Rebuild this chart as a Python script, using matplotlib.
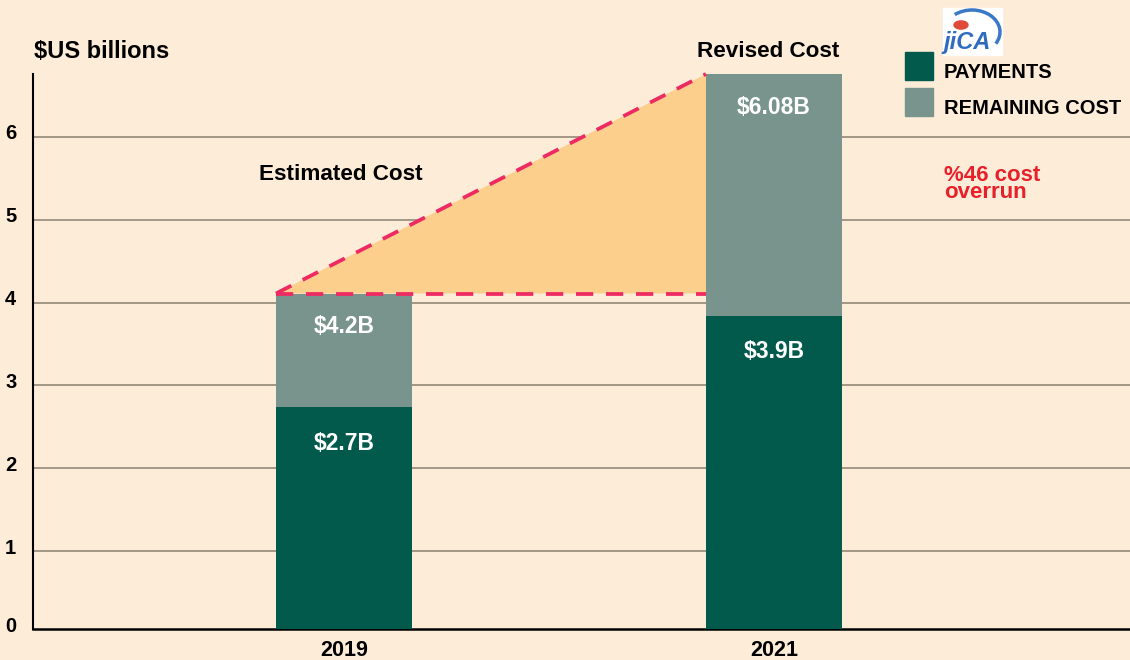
import matplotlib
matplotlib.use('Agg')
import matplotlib.pyplot as plt
from matplotlib.patches import Rectangle, Circle, Arc
from matplotlib.transforms import ScaledTranslation
import numpy as np

years = ['2019', '2021']
payments = [2.74, 3.84]
remaining = [1.37, 2.92]
pay_labels = ['$2.7B', '$3.9B']
rem_labels = ['$4.2B', '$6.08B']
cost_labels = ['Estimated Cost', 'Revised Cost']
legend_labels = ['PAYMENTS', 'REMAINING COST']
yticks = [0, 1, 2, 3, 4, 5, 6]

bg = '#fdecd8'
c_pay = '#025a4d'
c_rem = '#79948c'
c_fill = '#fdcf8d'
c_dash = '#ee2a62'
c_grid = '#a29684'

plt.rcParams['font.family'] = ['Liberation Sans', 'DejaVu Sans']
plt.rcParams['font.weight'] = 'bold'

W, H = 1130, 660
fig = plt.figure(figsize=(W / 100, H / 100), dpi=100, facecolor=bg)
ax = fig.add_axes([33 / W, 1 - 629 / H, 1 - 33 / W, (629 - 74) / H])
ax.set_facecolor(bg)

x = np.arange(len(years))
width = 0.316
totals = np.array(payments) + np.array(remaining)

# the baseline of the original sits a touch below the drawn axis line
y_floor = 0.06
ax.set_xlim(-0.723, 1.828)
ax.set_ylim(y_floor, totals[1])

# gridlines
for t in yticks[1:]:
    ax.axhline(t, color=c_grid, lw=1.4, zorder=0.5, xmin=0.002)

# cost-overrun wedge
xl0 = x[0] - width / 2
xl1 = x[1] - width / 2
ax.fill([xl0, xl1, xl1], [totals[0], totals[1], totals[0]], color=c_fill, zorder=1, lw=0)
ax.plot([xl0, xl1], [totals[0], totals[0]], color=c_dash, lw=2.7, dashes=(4.6, 3.4), zorder=4,
        solid_capstyle='butt', clip_on=False)
ax.plot([xl0, xl1], [totals[0], totals[1]], color=c_dash, lw=2.7, dashes=(4.6, 3.4), zorder=4,
        solid_capstyle='butt', clip_on=False)

ax.bar(x, payments, width, color=c_pay, zorder=3)
ax.bar(x, remaining, width, bottom=payments, color=c_rem, zorder=3)

for i in range(len(years)):
    ax.annotate(pay_labels[i], (x[i], payments[i]), xytext=(0, -26), textcoords='offset points',
                ha='center', va='center', color='white', fontsize=16.5, fontweight='bold', zorder=5)
    ax.annotate(rem_labels[i], (x[i], totals[i]), xytext=(0, -24), textcoords='offset points',
                ha='center', va='center', color='white', fontsize=16.5, fontweight='bold', zorder=5)

ax.annotate(cost_labels[0], (x[0], totals[0]), xytext=(-2, 86), textcoords='offset points',
            ha='center', va='center', fontsize=16.2, fontweight='bold')
ax.annotate(cost_labels[1], (x[1], totals[1]), xytext=(-4, 16), textcoords='offset points',
            ha='center', va='center', fontsize=16.2, fontweight='bold', annotation_clip=False)

# axes styling
for s in ['top', 'right']:
    ax.spines[s].set_visible(False)
ax.spines['left'].set_linewidth(1.5)
ax.spines['bottom'].set_linewidth(1.8)
ax.set_yticks([y_floor] + yticks[1:])
ax.set_yticklabels([str(t) for t in yticks], fontsize=14.5, fontweight='bold')
ax.set_xticks(x)
ax.set_xticklabels(years, fontsize=15.5, fontweight='bold')
ax.tick_params(axis='y', length=0, pad=12)
ax.tick_params(axis='x', length=0, pad=8)
for lab in ax.get_yticklabels():
    lab.set_transform(lab.get_transform() + ScaledTranslation(0, 5 / 100, fig.dpi_scale_trans))

# figure-level text
def fx(px):
    return px / W

def fy(py):
    return 1 - py / H

fig.text(fx(34), fy(51), '$US billions', fontsize=17, fontweight='bold', va='center', ha='left')

# legend
for j, (lab, col) in enumerate(zip(legend_labels, [c_pay, c_rem])):
    top = 52 + j * 36
    fig.patches.append(Rectangle((fx(905), fy(top + 28)), 28 / W, 28 / H, transform=fig.transFigure,
                                 color=col, figure=fig))
    fig.text(fx(944), fy(top + 20), lab, fontsize=14.5, fontweight='bold', va='center', ha='left')

fig.text(fx(944), fy(184), '%46 cost\noverrun', fontsize=16, fontweight='bold', color='#e8202a',
         va='center', ha='left', linespacing=0.8)

# logo
fig.patches.append(Rectangle((fx(943), fy(55)), 59 / W, 47 / H, transform=fig.transFigure,
                             color='white', figure=fig))
fig.patches.append(Arc((fx(972), fy(32)), 56 / W, 44 / H, theta1=-40, theta2=120,
                       transform=fig.transFigure, color='#3a78c8', lw=2.5, figure=fig))
fig.patches.append(Circle((fx(961), fy(25)), 7 / W, transform=fig.transFigure, color='#e04a3a',
                          figure=fig))
fig.text(fx(967), fy(42), 'jiCA', fontsize=17, fontweight='bold', style='italic', color='#2f6cc0',
         ha='center', va='center')

fig.savefig('out.png', dpi=100, facecolor=bg)
